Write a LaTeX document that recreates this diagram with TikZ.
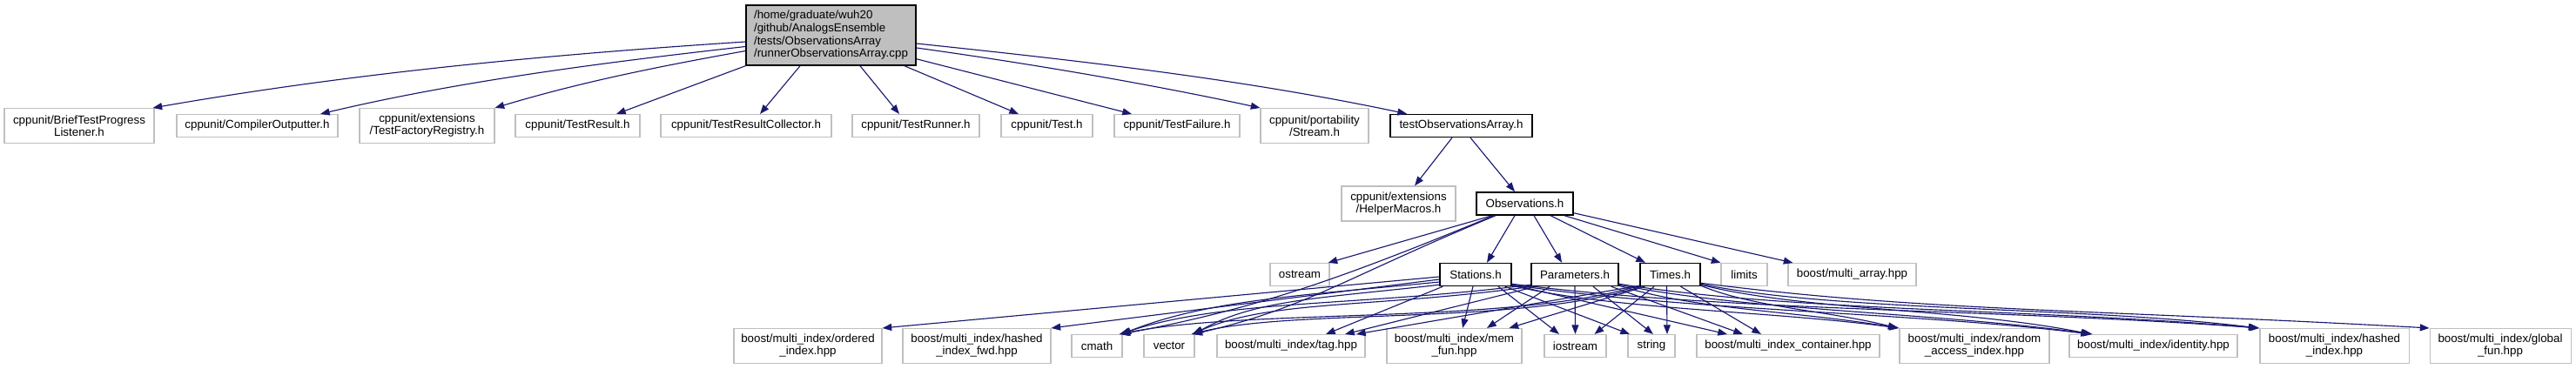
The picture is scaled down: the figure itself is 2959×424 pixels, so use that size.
\documentclass[tikz,border=0pt]{standalone}
\usepackage{fontspec}
\setmainfont{Liberation Sans}
\usetikzlibrary{arrows.meta,calc}
\definecolor{edgeblue}{HTML}{191970}
\definecolor{extgray}{HTML}{BFBFBF}
\newcommand\edS[4]{\draw[conn] ($(#1)+(#2)$) -- ($(#3)+(#4)$);}
\newcommand\edC[6]{\draw[conn] ($(#1)+(#2)$) .. controls +(#3) and +(#4) .. ($(#5)+(#6)$);}
\tikzset{
  basebox/.style={rectangle, inner sep=0pt, align=center, font=\fontsize{10pt}{10.5pt}\selectfont},
  extbox/.style={basebox, draw=extgray, fill=white, line width=0.8pt},
  locbox/.style={basebox, draw=black, fill=white, line width=1.1pt},
  rootbox/.style={basebox, draw=black, fill=extgray, line width=1.1pt, align=left, font=\fontsize{10pt}{11pt}\selectfont},
  shortbox/.style={minimum height=26*0.75pt},
  tallbox/.style={minimum height=40*0.75pt},
  wd/.style={minimum width=#1*0.75pt},
  conn/.style={draw=edgeblue, line width=0.85pt, -{Triangle[length=8pt,width=6pt]}}
}
\begin{document}
\begin{tikzpicture}[x=0.75pt,y=-0.75pt]
\useasboundingbox (0,0) rectangle (2959,424);
% row 1
\node[rootbox, wd=195, minimum height=69*0.75pt] (run) at (954.5,40.5) {/home/graduate/wuh20\\/github/AnalogsEnsemble\\/tests/ObservationsArray\\/runnerObservationsArray.cpp};
% row 2
\node[extbox, tallbox, wd=172] (brief) at (91,144.5) {cppunit/BriefTestProgress\\Listener.h};
\node[extbox, shortbox, wd=185] (compiler) at (295.5,144.5) {cppunit/CompilerOutputter.h};
\node[extbox, tallbox, wd=155] (factory) at (490.5,144.5) {cppunit/extensions\\/TestFactoryRegistry.h};
\node[extbox, shortbox, wd=143] (result) at (663.5,144.5) {cppunit/TestResult.h};
\node[extbox, shortbox, wd=196] (collector) at (857,144.5) {cppunit/TestResultCollector.h};
\node[extbox, shortbox, wd=146] (runnerh) at (1052,144.5) {cppunit/TestRunner.h};
\node[extbox, shortbox, wd=105] (test) at (1202.5,144.5) {cppunit/Test.h};
\node[extbox, shortbox, wd=144] (failure) at (1352,144.5) {cppunit/TestFailure.h};
\node[extbox, tallbox, wd=124] (stream) at (1510,144.5) {cppunit/portability\\/Stream.h};
\node[locbox, shortbox, wd=163] (testobs) at (1678.5,144.5) {testObservationsArray.h};
% row 3
\node[extbox, tallbox, wd=131] (helper) at (1606.5,234) {cppunit/extensions\\/HelperMacros.h};
\node[locbox, shortbox, wd=111] (obs) at (1751.5,234) {Observations.h};
% row 4
\node[extbox, shortbox, wd=68] (ostream) at (1493,315.5) {ostream};
\node[locbox, shortbox, wd=82] (stations) at (1695,315.5) {Stations.h};
\node[locbox, shortbox, wd=100] (params) at (1809,315.5) {Parameters.h};
\node[locbox, shortbox, wd=69] (times) at (1918.5,315.5) {Times.h};
\node[extbox, shortbox, wd=53] (limits) at (2003.5,315.5) {limits};
\node[extbox, shortbox, wd=147] (marray) at (2127.5,315.5) {boost/multi\_array.hpp};
% row 5
\node[extbox, tallbox, wd=170] (ordered) at (928,397.5) {boost/multi\_index/ordered\\\_index.hpp};
\node[extbox, tallbox, wd=170] (hfwd) at (1122,397.5) {boost/multi\_index/hashed\\\_index\_fwd.hpp};
\node[extbox, shortbox, wd=58] (cmath) at (1260,397.5) {cmath};
\node[extbox, shortbox, wd=58] (vector) at (1343,397.5) {vector};
\node[extbox, shortbox, wd=170] (tag) at (1483,397.5) {boost/multi\_index/tag.hpp};
\node[extbox, tallbox, wd=155] (memfun) at (1670.5,397.5) {boost/multi\_index/mem\\\_fun.hpp};
\node[extbox, shortbox, wd=71] (iostream) at (1809.5,397.5) {iostream};
\node[extbox, shortbox, wd=54] (string) at (1897,397.5) {string};
\node[extbox, shortbox, wd=210] (container) at (2054,397.5) {boost/multi\_index\_container.hpp};
\node[extbox, tallbox, wd=172] (random) at (2268,397.5) {boost/multi\_index/random\\\_access\_index.hpp};
\node[extbox, shortbox, wd=193] (identity) at (2473.5,397.5) {boost/multi\_index/identity.hpp};
\node[extbox, tallbox, wd=171] (hashed) at (2681.5,397.5) {boost/multi\_index/hashed\\\_index.hpp};
\node[extbox, tallbox, wd=162] (global) at (2872,397.5) {boost/multi\_index/global\\\_fun.hpp};
% runner edges
\edC{run.west}{0,7.5}{-230,15}{230,-40}{brief.north east}{-2,0}
\edC{run.west}{0,13}{-160,18}{160,-38}{compiler.north}{72.5,0}
\edC{run.west}{0,18}{-100,18}{100,-30}{factory.north east}{0,0}
\edS{run.south west}{0,0}{result.north}{44.5,0}
\edS{run.south}{-35.5,0}{collector.north}{16,0}
\edS{run.south}{33.5,0}{runnerh.north}{-19,0}
\edS{run.south}{84.5,0}{test.north}{-32.5,0}
\edS{run.south east}{0,-8}{failure.north}{-52,0}
\edC{run.east}{0,14.5}{130,18}{-130,-28}{stream.north west}{0,0}
\edC{run.east}{0,9.5}{190,20}{-190,-40}{testobs.north}{-62.5,0}
% testObservationsArray edges
\edS{testobs.south}{-10.5,0}{helper.north}{18.5,0}
\edS{testobs.south}{10.5,0}{obs.north}{-11.5,0}
% Observations edges
\edS{obs.south}{-37.5,0}{ostream.north east}{-2,0}
\edS{obs.south}{-11.5,0}{stations.north}{13,0}
\edS{obs.south}{10.5,0}{params.north}{-15,0}
\edS{obs.south}{29.5,0}{times.north}{-28.5,0}
\edS{obs.south}{45.5,0}{limits.north west}{0,0}
\edS{obs.south east}{0,-3}{marray.north west}{6,0}
\edC{obs.south}{-33.5,0}{-170,70}{130,-30}{vector.north east}{-2,0}
\edC{obs.south}{-35.5,0}{-170,70}{160,-30}{cmath.north east}{-2,0}
% Stations edges
\edS{stations.west}{0,2.5}{ordered.north east}{0,0}
\edS{stations.west}{0,5.5}{hfwd.north east}{0,0}
\edC{stations.west}{0,8.5}{-150,15}{100,-40}{cmath.north east}{-1,0}
\edC{stations.south west}{0,-2}{-130,15}{70,-40}{vector.north east}{-1,0}
\edS{stations.south west}{4,0}{tag.north}{40,0}
\edS{stations.south}{-3,0}{memfun.north}{9.5,0}
\edS{stations.south}{26,0}{iostream.north}{-18.5,0}
\edS{stations.south east}{-8,0}{string.north}{-25,0}
\edS{stations.south east}{0,-2}{container.north}{-70,0}
\edC{stations.south east}{0,-1}{120,28}{-150,-20}{random.north west}{0,0}
\edC{stations.south east}{0,-2}{200,30}{-200,-25}{identity.north}{-72.5,0}
\edC{stations.south east}{0,-3}{250,32}{-300,-22}{hashed.north west}{0,0}
% Parameters edges
\edC{params.south west}{0,-2}{-200,25}{120,-40}{cmath.north east}{-3,0}
\edC{params.south west}{1,0}{-180,25}{90,-40}{vector.north east}{-3,0}
\edS{params.south west}{6,0}{tag.north}{62,0}
\edS{params.south}{-29,0}{memfun.north}{37.5,0}
\edS{params.south}{0,0}{iostream.north}{0,0}
\edS{params.south}{21,0}{string.north}{2,0}
\edS{params.south east}{-9,0}{container.north}{-52,0}
\edC{params.south east}{0,-1}{90,28}{-120,-20}{random.north west}{-1,0}
\edC{params.south east}{0,-2}{150,30}{-180,-25}{identity.north}{-70,0}
\edC{params.south east}{0,-3}{200,32}{-250,-22}{hashed.north west}{-1,0}
% Times edges
\edC{times.south west}{0,-1}{-150,45}{150,-30}{cmath.north east}{-4,0}
\edC{times.south west}{2,0}{-140,45}{120,-30}{vector.north east}{-4,0}
\edS{times.south west}{0,-1}{tag.north}{75,0}
\edS{times.south west}{6,0}{memfun.north}{63,0}
\edS{times.south}{-18.5,0}{iostream.north}{22,0}
\edS{times.south}{-4,0}{string.north}{18,0}
\edS{times.south}{12,0}{container.north}{-31,0}
\edC{times.south east}{0,-1}{60,25}{-80,-20}{random.north west}{-2,0}
\edC{times.south east}{0,-2}{120,30}{-150,-30}{identity.north}{-72,0}
\edC{times.south east}{0,-3}{150,32}{-200,-25}{hashed.north west}{-2,0}
\edC{times.south east}{0,-4}{250,32}{-400,-22}{global.north west}{0,0}
\end{tikzpicture}
\end{document}
